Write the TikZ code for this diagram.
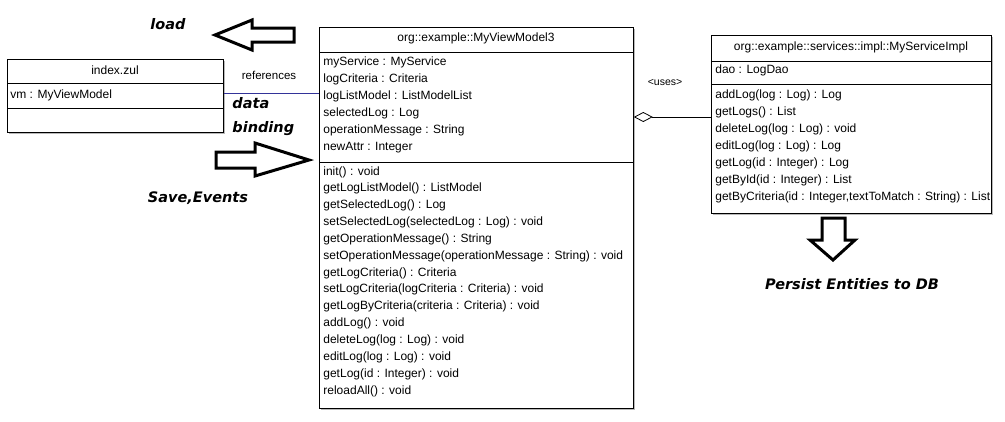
\documentclass[tikz,border=0pt]{standalone}
\usepackage{fontspec}
\setmainfont{Liberation Sans}
\newfontfamily\notefont{DejaVu Sans}
\usetikzlibrary{arrows.meta,shadows}
\definecolor{refblue}{RGB}{51,51,153}
\begin{document}
\begin{tikzpicture}[x=1pt,y=-1pt,line width=0.8pt,
	classbox/.style={draw,fill=white,inner sep=0pt,anchor=north west,drop shadow={shadow xshift=2pt,shadow yshift=-2pt,fill=gray!55,opacity=1}},
	member/.style={anchor=west,inner sep=0pt,text height=8.5pt,text depth=2.5pt,font=\fontsize{12}{14}\selectfont},
	title/.style={member,anchor=center},
	note/.style={inner sep=0pt,font=\notefont\bfseries\itshape\fontsize{14.5}{17}\selectfont},
	fatarrow/.style={draw,line width=3pt,line join=miter,fill=white}]
	\useasboundingbox (0,0) rectangle (1005,421);
	% classes
	\node[classbox,minimum width=216pt,minimum height=73pt] (zul) at (7,59) {};
	\node[classbox,minimum width=314pt,minimum height=381pt] (vm3) at (319,27) {};
	\node[classbox,minimum width=280pt,minimum height=178pt] (impl) at (711,35) {};
	\draw (zul.north west)++(0,24) -- ++(216,0) (zul.north west)++(0,49) -- ++(216,0);
	\draw (vm3.north west)++(0,25) -- ++(314,0) (vm3.north west)++(0,135) -- ++(314,0);
	\draw (impl.north west)++(0,26) -- ++(280,0) (impl.north west)++(0,49) -- ++(280,0);
	\node[title] (zulname) at (115,71) {index.zul};
	\node[member] (zulvm) at (10,95) {vm : MyViewModel};
	\node[title] (vmname) at (476,38) {org::example::MyViewModel3};
	\foreach \t [count=\i] in {myService : MyService,logCriteria : Criteria,logListModel : ListModelList,selectedLog : Log,operationMessage : String,newAttr : Integer}
		\node[member] (attr\i) at (323,{45+17*\i}) {\t};
	\foreach \t [count=\i] in {init() : void,getLogListModel() : ListModel,getSelectedLog() : Log,setSelectedLog(selectedLog : Log) : void,getOperationMessage() : String,setOperationMessage(operationMessage : String) : void,getLogCriteria() : Criteria,setLogCriteria(logCriteria : Criteria) : void,getLogByCriteria(criteria : Criteria) : void,addLog() : void,deleteLog(log : Log) : void,editLog(log : Log) : void,getLog(id : Integer) : void,reloadAll() : void}
		\node[member] (op\i) at (323,{155.15+16.85*\i}) {\t};
	\node[title] (implname) at (851,47) {org::example::services::impl::MyServiceImpl};
	\node[member] (dao) at (715,70) {dao : LogDao};
	\foreach \t [count=\i] in {addLog(log : Log) : Log,getLogs() : List,deleteLog(log : Log) : void,editLog(log : Log) : Log,getLog(id : Integer) : Log,getById(id : Integer) : List,{getByCriteria(id : Integer,textToMatch : String) : List}}
		\node[member] (sop\i) at (715,{78+17*\i}) {\t};
	% connectors
	\coordinate (r) at (0,93);
	\coordinate (u) at (0,117);
	\draw[refblue] (zul.east |- r) -- (vm3.west |- r);
	\draw[{Diamond[open,length=19pt,width=10pt,line width=0.8pt]}-] (vm3.east |- u) -- (impl.west |- u);
	\node[title,font=\fontsize{11.5}{13}\selectfont] (refs) at (269,76) {references};
	\node[title,font=\fontsize{10.5}{12}\selectfont] (uses) at (665,82) {<uses>};
	% fat arrows
	\draw[fatarrow] (215,35) -- (252,20) -- (252,28) -- (294,28) -- (294,42) -- (252,42) -- (252,50) -- cycle;
	\draw[fatarrow] (216,152) -- (255,152) -- (255,143) -- (309,160) -- (255,176) -- (255,168) -- (216,168) -- cycle;
	\draw[fatarrow] (822,218) -- (845,218) -- (845,240) -- (855,240) -- (833,260) -- (810,240) -- (822,240) -- cycle;
	\node[note,anchor=base] (load) at (168,29) {load};
	\node[note,anchor=base west] (data) at (232,108) {data};
	\node[note,anchor=base west] (binding) at (232,132) {binding};
	\node[note,anchor=base] (save) at (198,202) {Save,Events};
	\node[note,anchor=base] (persist) at (852,289) {Persist Entities to DB};
\end{tikzpicture}
\end{document}
